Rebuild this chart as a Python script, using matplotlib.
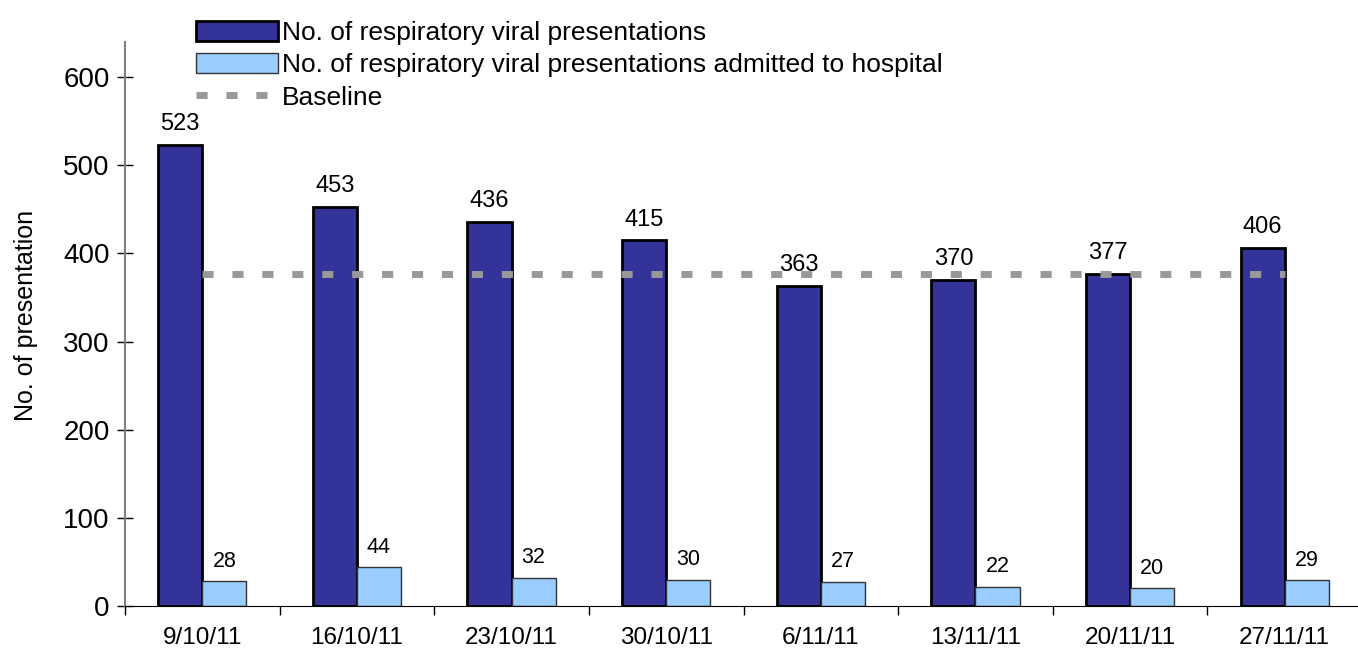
import matplotlib.pyplot as plt
import numpy as np

# weekly counts
weeks = ["9/10/11", "16/10/11", "23/10/11", "30/10/11",
         "6/11/11", "13/11/11", "20/11/11", "27/11/11"]
presentations = [523, 453, 436, 415, 363, 370, 377, 406]
admitted = [28, 44, 32, 30, 27, 22, 20, 29]
baseline = [377, 377, 377, 377, 377, 377, 377, 377]

plt.rcParams['font.family'] = ['Liberation Sans', 'DejaVu Sans']

W, H = 1358, 651
fig = plt.figure(figsize=(W / 100, H / 100), dpi=100)
ax = fig.add_axes([125 / W, (H - 606) / H, (1362 - 125) / W, (606 - 42) / H])

x = np.arange(len(weeks))
bw = 0.285

dark = ax.bar(x - bw / 2, presentations, bw, color="#333399",
              edgecolor="black", linewidth=2,
              label="No. of respiratory viral presentations", zorder=2)
light = ax.bar(x + bw / 2, admitted, bw, color="#99ccff",
               edgecolor="#333333", linewidth=1,
               label="No. of respiratory viral presentations admitted to hospital",
               zorder=2)
base, = ax.plot(x, baseline, color="#999999", linewidth=5,
                linestyle=(0, (1.6, 2.71)), label="Baseline", zorder=3)

for xi, v in zip(x, presentations):
    ax.annotate(str(v), (xi - bw / 2, v), xytext=(0, 7), textcoords="offset points",
                ha="center", va="bottom", fontsize=17)
for xi, v in zip(x, admitted):
    ax.annotate(str(v), (xi + bw / 2, v), xytext=(0, 7), textcoords="offset points",
                ha="center", va="bottom", fontsize=15.5)

ax.set_xlim(-0.5, len(weeks) - 0.5)
ax.set_ylim(0, 640)
ax.set_yticks([0, 100, 200, 300, 400, 500, 600])
ax.tick_params(axis="y", direction="inout", length=12, width=1, labelsize=20,
               pad=5, color="black")

ax.set_xticks(x)
ax.set_xticklabels(weeks)
ax.set_xticks(np.arange(-0.5, len(weeks), 1), minor=True)
ax.tick_params(axis="x", which="major", length=0, labelsize=17.5, pad=15)
ax.tick_params(axis="x", which="minor", direction="out", length=6.5, width=1)

for side in ["top", "right"]:
    ax.spines[side].set_visible(False)
ax.spines["left"].set_color("#808080")
ax.spines["left"].set_linewidth(1.5)
ax.spines["bottom"].set_color("black")

ax.set_ylabel("No. of presentation", fontsize=18)
ax.yaxis.set_label_coords(-0.0704, 0.516)

fig.legend(handles=[dark, light, base], loc="upper left",
           bbox_to_anchor=(196 / W, 1 - 21 / H),
           frameon=False, fontsize=19, handlelength=3.1, handleheight=0.8,
           handletextpad=0.15, labelspacing=0.3, borderpad=0, borderaxespad=0)

fig.savefig("out.png", dpi=100)
